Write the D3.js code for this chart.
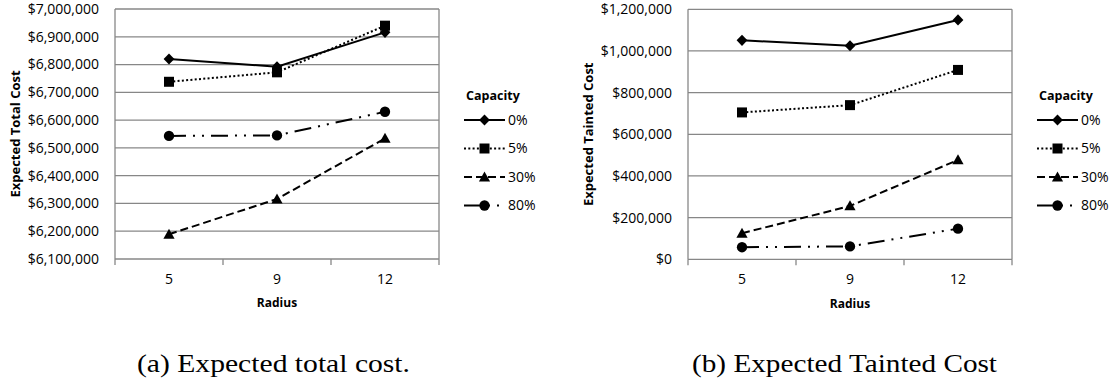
<!DOCTYPE html>
<html>
<head>
<meta charset="utf-8">
<script src="https://cdn.jsdelivr.net/npm/d3@7"></script>
<style>
  html, body { margin: 0; padding: 0; background: #fff; }
  svg { display: block; }
  .tick-label { font-family: "Open Sans", sans-serif; font-size: 14px; fill: #000; }
  .axis-title { font-family: "Open Sans", sans-serif; font-weight: bold; fill: #000; }
  .legend-title { font-family: "Open Sans", sans-serif; font-weight: bold; font-size: 12.5px; fill: #000; }
  .legend-label { font-family: "Open Sans", sans-serif; font-size: 14px; fill: #000; }
  .caption { font-family: "Liberation Serif", "Times New Roman", serif; font-size: 25px; fill: #000; }
</style>
</head>
<body>
<svg id="chart" width="1115" height="381"></svg>
<script>
// Radius categories shared by both panels
const radii = ["5", "9", "12"];
const capacities = ["0%", "5%", "30%", "80%"];

// Expected total cost by capacity level
const totalCost0  = [6820000, 6792000, 6916000];
const totalCost5  = [6738000, 6772000, 6940000];
const totalCost30 = [6189000, 6316000, 6534000];
const totalCost80 = [6543000, 6545000, 6630000];
const totalCostTicks = [6100000, 6200000, 6300000, 6400000, 6500000, 6600000, 6700000, 6800000, 6900000, 7000000];

// Expected tainted cost by capacity level
const taintedCost0  = [1051000, 1025000, 1149000];
const taintedCost5  = [705000, 740000, 909000];
const taintedCost30 = [125000, 256000, 477000];
const taintedCost80 = [58000, 62000, 147000];
const taintedCostTicks = [0, 200000, 400000, 600000, 800000, 1000000, 1200000];

const svg = d3.select("#chart");
const gridColor = "#878787";
const fmt = d3.format("$,.0f");

// Line styles per capacity level: solid, dotted, dashed, long dash-dot-dot
const styles = {
  "0%":  { dash: null,                 marker: "diamond" },
  "5%":  { dash: "2,2.3",              marker: "square" },
  "30%": { dash: "8,4",                marker: "triangle" },
  "80%": { dash: "17,7,2,7,2,7",       marker: "circle" }
};

function markerPath(type) {
  switch (type) {
    case "diamond":  return "M0,-5.6L5.4,0L0,5.6L-5.4,0Z";
    case "square":   return "M-5,-5H5V5H-5Z";
    case "triangle": return "M0,-5.6L5.6,4.4H-5.6Z";
    default:         return d3.symbol(d3.symbolCircle, 84)();
  }
}

function drawPanel(cfg) {
  const g = svg.append("g");
  const x = d3.scaleBand().domain(radii).range([cfg.x0, cfg.x1]);
  const y = d3.scaleLinear().domain(d3.extent(cfg.ticks)).range([cfg.y1, cfg.y0]);

  // horizontal gridlines
  g.selectAll("line.grid").data(cfg.ticks).join("line")
    .attr("x1", cfg.x0).attr("x2", cfg.x1)
    .attr("y1", d => y(d)).attr("y2", d => y(d))
    .attr("stroke", gridColor).attr("stroke-width", 1.3);

  // left and right plot borders
  [cfg.x0, cfg.x1].forEach(xx => {
    g.append("line").attr("x1", xx).attr("x2", xx)
      .attr("y1", cfg.y0).attr("y2", cfg.y1)
      .attr("stroke", gridColor).attr("stroke-width", 1.3);
  });

  // category tick marks at band boundaries
  const bounds = radii.map(r => x(r)).concat([cfg.x1]);
  g.selectAll("line.xtick").data(bounds).join("line")
    .attr("x1", d => d).attr("x2", d => d)
    .attr("y1", cfg.y1).attr("y2", cfg.y1 + 6)
    .attr("stroke", gridColor).attr("stroke-width", 1.3);

  // y tick labels
  g.selectAll("text.ytl").data(cfg.ticks).join("text")
    .attr("class", "tick-label")
    .attr("x", cfg.x0 - 16).attr("y", d => y(d))
    .attr("dy", "0.35em").attr("text-anchor", "end")
    .text(d => fmt(d));

  // x tick labels
  g.selectAll("text.xtl").data(radii).join("text")
    .attr("class", "tick-label")
    .attr("x", d => x(d) + x.bandwidth() / 2).attr("y", cfg.y1 + 20)
    .attr("dy", "0.35em").attr("text-anchor", "middle")
    .text(d => d);

  // axis titles
  g.append("text").attr("class", "axis-title")
    .attr("x", (cfg.x0 + cfg.x1) / 2).attr("y", cfg.y1 + 44)
    .attr("dy", "0.35em").attr("text-anchor", "middle")
    .style("font-size", "12px")
    .text("Radius");
  g.append("text").attr("class", "axis-title")
    .attr("transform", `translate(${cfg.x0 - 100},${(cfg.y0 + cfg.y1) / 2}) rotate(-90)`)
    .attr("dy", "0.35em").attr("text-anchor", "middle")
    .style("font-size", "13px")
    .text(cfg.yTitle);

  // series lines and markers
  const line = d3.line()
    .x((d, i) => x(radii[i]) + x.bandwidth() / 2)
    .y(d => y(d));
  capacities.forEach((cap, k) => {
    const vals = cfg.series[k];
    const st = styles[cap];
    g.append("path").attr("d", line(vals))
      .attr("fill", "none").attr("stroke", "#000")
      .attr("stroke-width", 2)
      .attr("stroke-dasharray", st.dash);
    g.selectAll(null).data(vals).join("path")
      .attr("transform", (d, i) => `translate(${x(radii[i]) + x.bandwidth() / 2},${y(d)})`)
      .attr("d", markerPath(st.marker))
      .attr("fill", "#000");
  });

  // legend
  const lg = g.append("g");
  lg.append("text").attr("class", "legend-title")
    .attr("x", cfg.legendX + 2).attr("y", 96).attr("dy", "0.35em")
    .text("Capacity");
  capacities.forEach((cap, k) => {
    const st = styles[cap];
    const cy = 120 + k * 28.5;
    lg.append("line")
      .attr("x1", cfg.legendX).attr("x2", cfg.legendX + 41)
      .attr("y1", cy).attr("y2", cy)
      .attr("stroke", "#000").attr("stroke-width", 2)
      .attr("stroke-dasharray", st.dash);
    lg.append("path")
      .attr("transform", `translate(${cfg.legendX + 20.5},${cy})`)
      .attr("d", markerPath(st.marker))
      .attr("fill", "#000");
    lg.append("text").attr("class", "legend-label")
      .attr("x", cfg.legendX + 44).attr("y", cy).attr("dy", "0.35em")
      .text(cap);
  });

  // caption
  g.append("text").attr("class", "caption")
    .attr("x", cfg.captionX).attr("y", 372)
    .attr("textLength", cfg.captionW).attr("lengthAdjust", "spacingAndGlyphs")
    .text(cfg.caption);
}

drawPanel({
  x0: 115, x1: 439, y0: 9, y1: 259,
  ticks: totalCostTicks,
  series: [totalCost0, totalCost5, totalCost30, totalCost80],
  yTitle: "Expected Total Cost",
  legendX: 464,
  caption: "(a) Expected total cost.", captionX: 137, captionW: 273
});

drawPanel({
  x0: 688, x1: 1012, y0: 9.3, y1: 259.3,
  ticks: taintedCostTicks,
  series: [taintedCost0, taintedCost5, taintedCost30, taintedCost80],
  yTitle: "Expected Tainted Cost",
  legendX: 1037,
  caption: "(b) Expected Tainted Cost", captionX: 692, captionW: 305
});
</script>
</body>
</html>
